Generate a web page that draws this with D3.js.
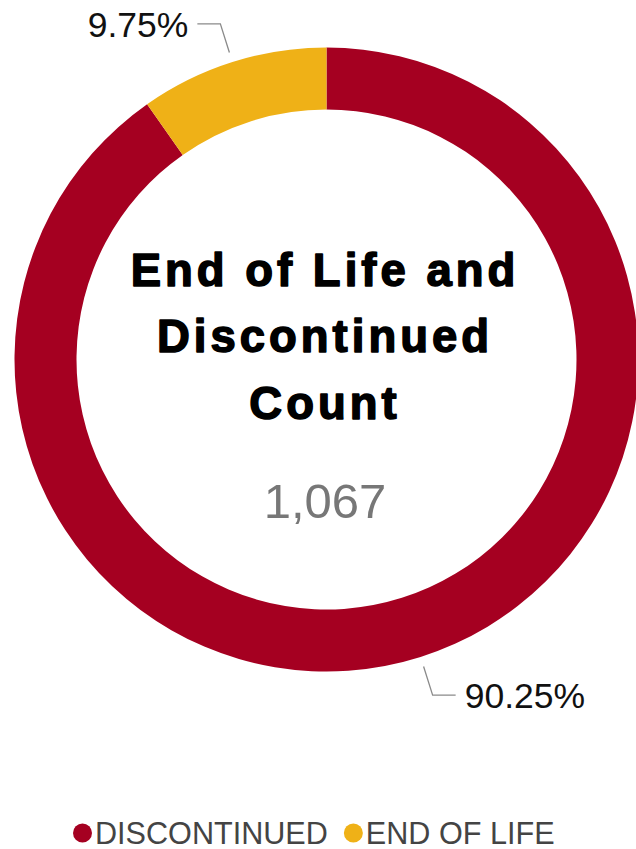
<!DOCTYPE html>
<html>
<head>
<meta charset="utf-8">
<script src="https://cdn.jsdelivr.net/npm/d3@7"></script>
<style>
  html, body { margin: 0; padding: 0; background: #fff; }
  svg { display: block; font-family: "Liberation Sans", Arial, sans-serif; }
</style>
</head>
<body>
<svg id="chart" width="636" height="849"></svg>
<script>
const categories = ["DISCONTINUED", "END OF LIFE"];
const percentages = [90.25, 9.75];
const colors = ["#A50021", "#EFB117"];
const titleLines = ["End of Life and", "Discontinued", "Count"];
const totalCount = 1067;

const svg = d3.select("#chart");
const cx = 326.5, cy = 359.5, outerR = 312, innerR = 250;

const data = categories.map((c, i) => ({ name: c, value: percentages[i], color: colors[i] }));
const pie = d3.pie().sort(null).value(d => d.value);
const arcs = pie(data);
const arc = d3.arc().innerRadius(innerR).outerRadius(outerR);

const g = svg.append("g").attr("transform", `translate(${cx},${cy})`);
g.selectAll("path.slice").data(arcs).join("path")
  .attr("class", "slice")
  .attr("d", arc)
  .attr("fill", d => d.data.color);

// leader lines and labels
const fmt = d3.format(".2f");
arcs.forEach(a => {
  const mid = (a.startAngle + a.endAngle) / 2;
  const sx = Math.sin(mid), sy = -Math.cos(mid);
  const p1 = [sx * (outerR + 10), sy * (outerR + 10)];
  const p2 = [sx * (outerR + 40), sy * (outerR + 40)];
  const dir = sx >= 0 ? 1 : -1;
  const p3 = [p2[0] + dir * 23, p2[1]];
  g.append("polyline")
    .attr("points", [p1, p2, p3].map(p => p.join(",")).join(" "))
    .attr("fill", "none")
    .attr("stroke", "#8a8a8a")
    .attr("stroke-width", 1.3);
  g.append("text")
    .attr("x", p3[0] + dir * 9)
    .attr("y", p3[1])
    .attr("dy", "0.36em")
    .attr("text-anchor", dir > 0 ? "start" : "end")
    .attr("font-size", 35.5)
    .attr("fill", "#111")
    .text(fmt(a.data.value) + "%");
});

// center title
const titleY = [285.7, 352.2, 418.6];
svg.selectAll("text.title").data(titleLines).join("text")
  .attr("class", "title")
  .attr("x", 325)
  .attr("y", (d, i) => titleY[i])
  .attr("text-anchor", "middle")
  .attr("font-size", 45.5)
  .attr("font-weight", "bold")
  .attr("letter-spacing", "4px")
  .attr("stroke", "#000")
  .attr("stroke-width", 1.5)
  .attr("stroke-linejoin", "round")
  .attr("fill", "#000")
  .text(d => d);

svg.append("text")
  .attr("x", 325)
  .attr("y", 518)
  .attr("text-anchor", "middle")
  .attr("font-size", 49)
  .attr("fill", "#777")
  .text(d3.format(",")(totalCount));

// legend
const legend = svg.append("g");
let lx = 73;
const ly = 833;
data.forEach((d, i) => {
  legend.append("circle")
    .attr("cx", lx + 9.5)
    .attr("cy", ly)
    .attr("r", 9.5)
    .attr("fill", d.color);
  const t = legend.append("text")
    .attr("x", lx + 22)
    .attr("y", ly)
    .attr("dy", "0.36em")
    .attr("font-size", 30.6)
    .attr("fill", "#444")
    .text(d.name);
  lx = lx + 22 + t.node().getComputedTextLength() + 16;
});
</script>
</body>
</html>
